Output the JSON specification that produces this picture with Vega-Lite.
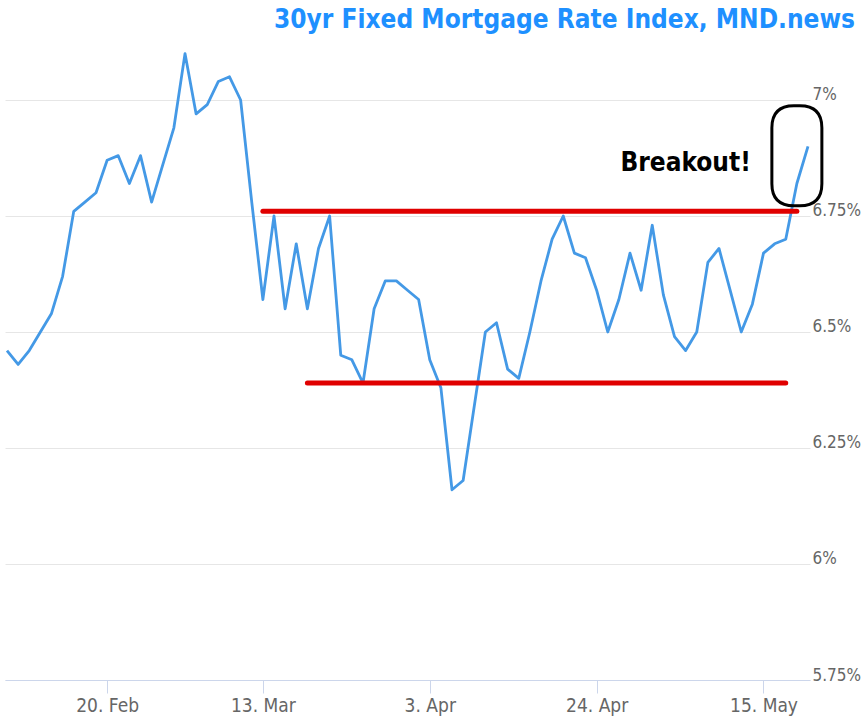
{
  "$schema": "https://vega.github.io/schema/vega-lite/v6.json",
  "width": 805,
  "height": 635,
  "autosize": {"type": "none"},
  "padding": {"left": 5, "top": 45, "right": 56, "bottom": 41},
  "background": "white",
  "title": {
    "text": "30yr Fixed Mortgage Rate Index, MND.news",
    "anchor": "end",
    "frame": "group",
    "dx": 45,
    "dy": 23,
    "offset": 14,
    "baseline": "alphabetic",
    "font": "DejaVu Sans Condensed, Liberation Sans Narrow, sans-serif",
    "fontSize": 26,
    "fontWeight": "bold",
    "color": "#1e90ff"
  },
  "config": {
    "view": {"stroke": null},
    "axis": {"labelFont": "Liberation Sans Narrow, DejaVu Sans Condensed, sans-serif", "labelColor": "#666666", "labelFontSize": 17}
  },
  "datasets": {
    "rates": [
      {"date": "2023-02-07", "rate": 6.46},
      {"date": "2023-02-08", "rate": 6.43},
      {"date": "2023-02-09", "rate": 6.46},
      {"date": "2023-02-10", "rate": 6.50},
      {"date": "2023-02-13", "rate": 6.54},
      {"date": "2023-02-14", "rate": 6.62},
      {"date": "2023-02-15", "rate": 6.76},
      {"date": "2023-02-16", "rate": 6.78},
      {"date": "2023-02-17", "rate": 6.80},
      {"date": "2023-02-21", "rate": 6.87},
      {"date": "2023-02-22", "rate": 6.88},
      {"date": "2023-02-23", "rate": 6.82},
      {"date": "2023-02-24", "rate": 6.88},
      {"date": "2023-02-27", "rate": 6.78},
      {"date": "2023-02-28", "rate": 6.86},
      {"date": "2023-03-01", "rate": 6.94},
      {"date": "2023-03-02", "rate": 7.10},
      {"date": "2023-03-03", "rate": 6.97},
      {"date": "2023-03-06", "rate": 6.99},
      {"date": "2023-03-07", "rate": 7.04},
      {"date": "2023-03-08", "rate": 7.05},
      {"date": "2023-03-09", "rate": 7.00},
      {"date": "2023-03-10", "rate": 6.78},
      {"date": "2023-03-13", "rate": 6.57},
      {"date": "2023-03-14", "rate": 6.75},
      {"date": "2023-03-15", "rate": 6.55},
      {"date": "2023-03-16", "rate": 6.69},
      {"date": "2023-03-17", "rate": 6.55},
      {"date": "2023-03-20", "rate": 6.68},
      {"date": "2023-03-21", "rate": 6.75},
      {"date": "2023-03-22", "rate": 6.45},
      {"date": "2023-03-23", "rate": 6.44},
      {"date": "2023-03-24", "rate": 6.39},
      {"date": "2023-03-27", "rate": 6.55},
      {"date": "2023-03-28", "rate": 6.61},
      {"date": "2023-03-29", "rate": 6.61},
      {"date": "2023-03-30", "rate": 6.59},
      {"date": "2023-03-31", "rate": 6.57},
      {"date": "2023-04-03", "rate": 6.44},
      {"date": "2023-04-04", "rate": 6.38},
      {"date": "2023-04-05", "rate": 6.16},
      {"date": "2023-04-06", "rate": 6.18},
      {"date": "2023-04-07", "rate": 6.34},
      {"date": "2023-04-10", "rate": 6.50},
      {"date": "2023-04-11", "rate": 6.52},
      {"date": "2023-04-12", "rate": 6.42},
      {"date": "2023-04-13", "rate": 6.40},
      {"date": "2023-04-14", "rate": 6.50},
      {"date": "2023-04-17", "rate": 6.61},
      {"date": "2023-04-18", "rate": 6.70},
      {"date": "2023-04-19", "rate": 6.75},
      {"date": "2023-04-20", "rate": 6.67},
      {"date": "2023-04-21", "rate": 6.66},
      {"date": "2023-04-24", "rate": 6.59},
      {"date": "2023-04-25", "rate": 6.50},
      {"date": "2023-04-26", "rate": 6.57},
      {"date": "2023-04-27", "rate": 6.67},
      {"date": "2023-04-28", "rate": 6.59},
      {"date": "2023-05-01", "rate": 6.73},
      {"date": "2023-05-02", "rate": 6.58},
      {"date": "2023-05-03", "rate": 6.49},
      {"date": "2023-05-04", "rate": 6.46},
      {"date": "2023-05-05", "rate": 6.50},
      {"date": "2023-05-08", "rate": 6.65},
      {"date": "2023-05-09", "rate": 6.68},
      {"date": "2023-05-10", "rate": 6.59},
      {"date": "2023-05-11", "rate": 6.50},
      {"date": "2023-05-12", "rate": 6.56},
      {"date": "2023-05-15", "rate": 6.67},
      {"date": "2023-05-16", "rate": 6.69},
      {"date": "2023-05-17", "rate": 6.70},
      {"date": "2023-05-18", "rate": 6.82},
      {"date": "2023-05-19", "rate": 6.90}
    ],
    "levels": [
      {"start": "2023-03-13", "end": "2023-05-18", "level": 6.76},
      {"start": "2023-03-17", "end": "2023-05-17", "level": 6.39}
    ],
    "note": [
      {"date": "2023-05-04", "rate": 6.864, "label": "Breakout!"}
    ],
    "circle": [
      {"date": "2023-05-18", "rate": 6.88}
    ]
  },
  "layer": [
    {
      "data": {"name": "rates"},
      "mark": {"type": "line", "color": "#4499e6", "strokeWidth": 2.8, "strokeJoin": "round"},
      "encoding": {
        "x": {
          "field": "date",
          "type": "ordinal",
          "scale": {"type": "point", "padding": 0.18},
          "axis": {
            "title": null,
            "values": ["2023-02-21", "2023-03-13", "2023-04-03", "2023-04-24", "2023-05-15"],
            "labelExpr": "datum.value == '2023-02-21' ? '20. Feb' : utcFormat(toDate(datum.value), '%-d. %b')",
            "labelAngle": 0,
            "labelFontSize": 19,
            "domainColor": "#ccd6eb",
            "tickColor": "#ccd6eb",
            "tickSize": 13,
            "labelPadding": 3,
            "grid": false
          }
        },
        "y": {
          "field": "rate",
          "type": "quantitative",
          "scale": {"domain": [5.75, 7.1185], "nice": false, "zero": false},
          "axis": {
            "title": null,
            "orient": "right",
            "values": [5.75, 6, 6.25, 6.5, 6.75, 7],
            "labelExpr": "datum.value + '%'",
            "domain": false,
            "ticks": false,
            "grid": true,
            "gridColor": "#e6e6e6",
            "gridWidth": 1,
            "labelPadding": 2,
            "labelBaseline": "alphabetic",
            "labelAlign": "left"
          }
        }
      }
    },
    {
      "data": {"name": "levels"},
      "mark": {"type": "rule", "color": "#e00000", "strokeWidth": 5, "strokeCap": "round"},
      "encoding": {
        "x": {"field": "start", "type": "ordinal"},
        "x2": {"field": "end"},
        "y": {"field": "level", "type": "quantitative"}
      }
    },
    {
      "data": {"name": "note"},
      "mark": {"type": "text", "font": "DejaVu Sans Condensed, Liberation Sans Narrow, sans-serif", "fontSize": 26, "fontWeight": "bold", "color": "black", "align": "center", "baseline": "middle"},
      "encoding": {
        "x": {"field": "date", "type": "ordinal"},
        "y": {"field": "rate", "type": "quantitative"},
        "text": {"field": "label"}
      }
    },
    {
      "data": {"name": "circle"},
      "mark": {
        "type": "point",
        "shape": "M -0.06 -1 L 0.06 -1 Q 0.5 -1 0.5 -0.56 L 0.5 0.56 Q 0.5 1 0.06 1 L -0.06 1 Q -0.5 1 -0.5 0.56 L -0.5 -0.56 Q -0.5 -1 -0.06 -1 Z",
        "size": 10000,
        "filled": false,
        "stroke": "black",
        "strokeWidth": 3,
        "opacity": 1
      },
      "encoding": {
        "x": {"field": "date", "type": "ordinal"},
        "y": {"field": "rate", "type": "quantitative"}
      }
    }
  ]
}
